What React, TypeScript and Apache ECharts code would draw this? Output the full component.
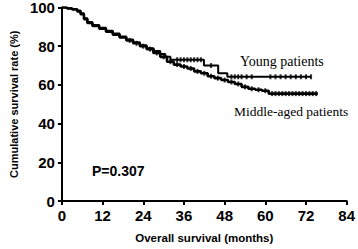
import React, { useEffect, useRef } from "react";
import * as echarts from "echarts";

const xTicks = [0, 12, 24, 36, 48, 60, 72, 84];
const yTicks = [0, 20, 40, 60, 80, 100];

// Kaplan-Meier steps [month, survival % after event]
const youngCurve: [number, number][] = [
  [0, 100], [1.5, 99.6], [3, 99.2], [4.5, 98.5], [5.5, 97], [6.5, 94.5], [7.5, 92.5],
  [9, 91], [11, 89.5], [13, 88], [15, 86.5], [17, 85], [19, 83.5], [21, 82],
  [23, 80.5], [25, 79], [27, 77.5], [29, 76], [30.5, 74.5], [32, 73],
  [41.9, 70], [46.1, 66], [48.8, 64.2], [73.5, 64.2],
];
const middleCurve: [number, number][] = [
  [0, 100], [1.5, 99.5], [3, 99], [4.5, 98], [5.5, 96.5], [6.5, 94], [7.5, 92],
  [9, 90.5], [11, 89], [13, 87.5], [15, 86], [17, 84.5], [19, 83], [21, 81.5],
  [23, 80], [25, 78.5], [27, 76.5], [29, 74.5], [31, 72], [33, 70.5], [35, 69.5],
  [37, 68.5], [39, 67], [41, 66], [43, 64.5], [45, 63.5], [47, 62.5], [49, 61.5],
  [51, 60.5], [53, 59], [55, 58], [57, 57.5], [59, 57], [61, 55.5], [75.5, 55.5],
];
const youngCensored = [27, 34, 35, 36, 37, 38, 39, 40, 41, 44, 50, 51, 52, 53, 54.5, 56,
  61.5, 63, 64.5, 66, 67.5, 69, 70.5, 72, 73.5];
const middleCensored = [20, 22, 24, 26, 28, 30, 32, 34, 36, 38, 40, 42, 44, 46, 48, 50,
  52, 54, 56, 58, 60, 62, 63, 64, 65, 66, 67, 68, 69, 70, 71, 72, 73, 74, 75];

const pValueText = "P=0.307";
const youngLabel = "Young patients";
const middleLabel = "Middle-aged patients";
const xTitle = "Overall survival (months)";
const yTitle = "Cumulative survival rate (%)";

function survivalAt(curve: [number, number][], t: number): number {
  let v = curve[0][1];
  for (const [m, s] of curve) {
    if (m <= t) v = s;
  }
  return v;
}

export default function App() {
  const ref = useRef<HTMLDivElement>(null);
  useEffect(() => {
    if (!ref.current) return;
    const chart = echarts.init(ref.current, undefined, { renderer: "svg" });
    const bold = "Liberation Sans, Arial, sans-serif";
    chart.setOption({
      animation: false,
      backgroundColor: "#ffffff",
      grid: { left: 49.3, right: 9.7, top: 6.7, bottom: 42.3 },
      xAxis: {
        type: "value",
        min: 0,
        max: 84,
        interval: 12,
        axisLine: { show: true, lineStyle: { color: "#000", width: 2 } },
        axisTick: { show: true, length: 4, lineStyle: { color: "#000", width: 2 } },
        splitLine: { show: false },
        axisLabel: {
          color: "#000", fontFamily: bold, fontWeight: "bold", fontSize: 15, margin: 7,
          formatter: (v: number) => (xTicks.includes(v) ? String(v) : ""),
        },
        name: xTitle,
        nameLocation: "middle",
        nameGap: 31,
        nameTextStyle: { color: "#000", fontFamily: bold, fontWeight: "bold", fontSize: 11.5 },
      },
      yAxis: {
        type: "value",
        min: 0,
        max: 100,
        interval: 20,
        axisLine: { show: true, lineStyle: { color: "#000", width: 2 } },
        axisTick: { show: true, length: 4, lineStyle: { color: "#000", width: 2 } },
        splitLine: { show: false },
        axisLabel: {
          color: "#000", fontFamily: bold, fontWeight: "bold", fontSize: 15, margin: 7,
          formatter: (v: number) => (yTicks.includes(v) ? String(v) : ""),
        },
        name: yTitle,
        nameLocation: "middle",
        nameGap: 40,
        nameRotate: 90,
        nameTextStyle: { color: "#000", fontFamily: bold, fontWeight: "bold", fontSize: 11 },
      },
      series: [
        {
          type: "line", step: "end", data: middleCurve, showSymbol: false,
          lineStyle: { color: "#000", width: 2.6 }, silent: true,
        },
        {
          type: "line", step: "end", data: youngCurve, showSymbol: false,
          lineStyle: { color: "#000", width: 2 }, silent: true,
        },
        {
          type: "scatter", symbol: "rect", symbolSize: [2, 5],
          data: middleCensored.map((t) => [t, survivalAt(middleCurve, t)]),
          itemStyle: { color: "#000" }, silent: true,
        },
        {
          type: "scatter", symbol: "rect", symbolSize: [2, 5],
          data: youngCensored.map((t) => [t, survivalAt(youngCurve, t)]),
          itemStyle: { color: "#000" }, silent: true,
        },
      ],
      graphic: [
        {
          type: "text", left: 240, top: 54,
          style: { text: youngLabel, fill: "#000", font: "14px 'Liberation Serif', 'Times New Roman', serif" },
        },
        {
          type: "text", left: 234, top: 104,
          style: { text: middleLabel, fill: "#000", font: "13.5px 'Liberation Serif', 'Times New Roman', serif" },
        },
        {
          type: "text", left: 92, top: 164,
          style: { text: pValueText, fill: "#000", font: "bold 14px 'Liberation Sans', Arial, sans-serif" },
        },
      ],
    });
    return () => chart.dispose();
  }, []);
  return (
    <div
      ref={ref}
      style={{ position: "fixed", left: 0, top: 0, width: 358, height: 249, background: "#fff" }}
    />
  );
}
